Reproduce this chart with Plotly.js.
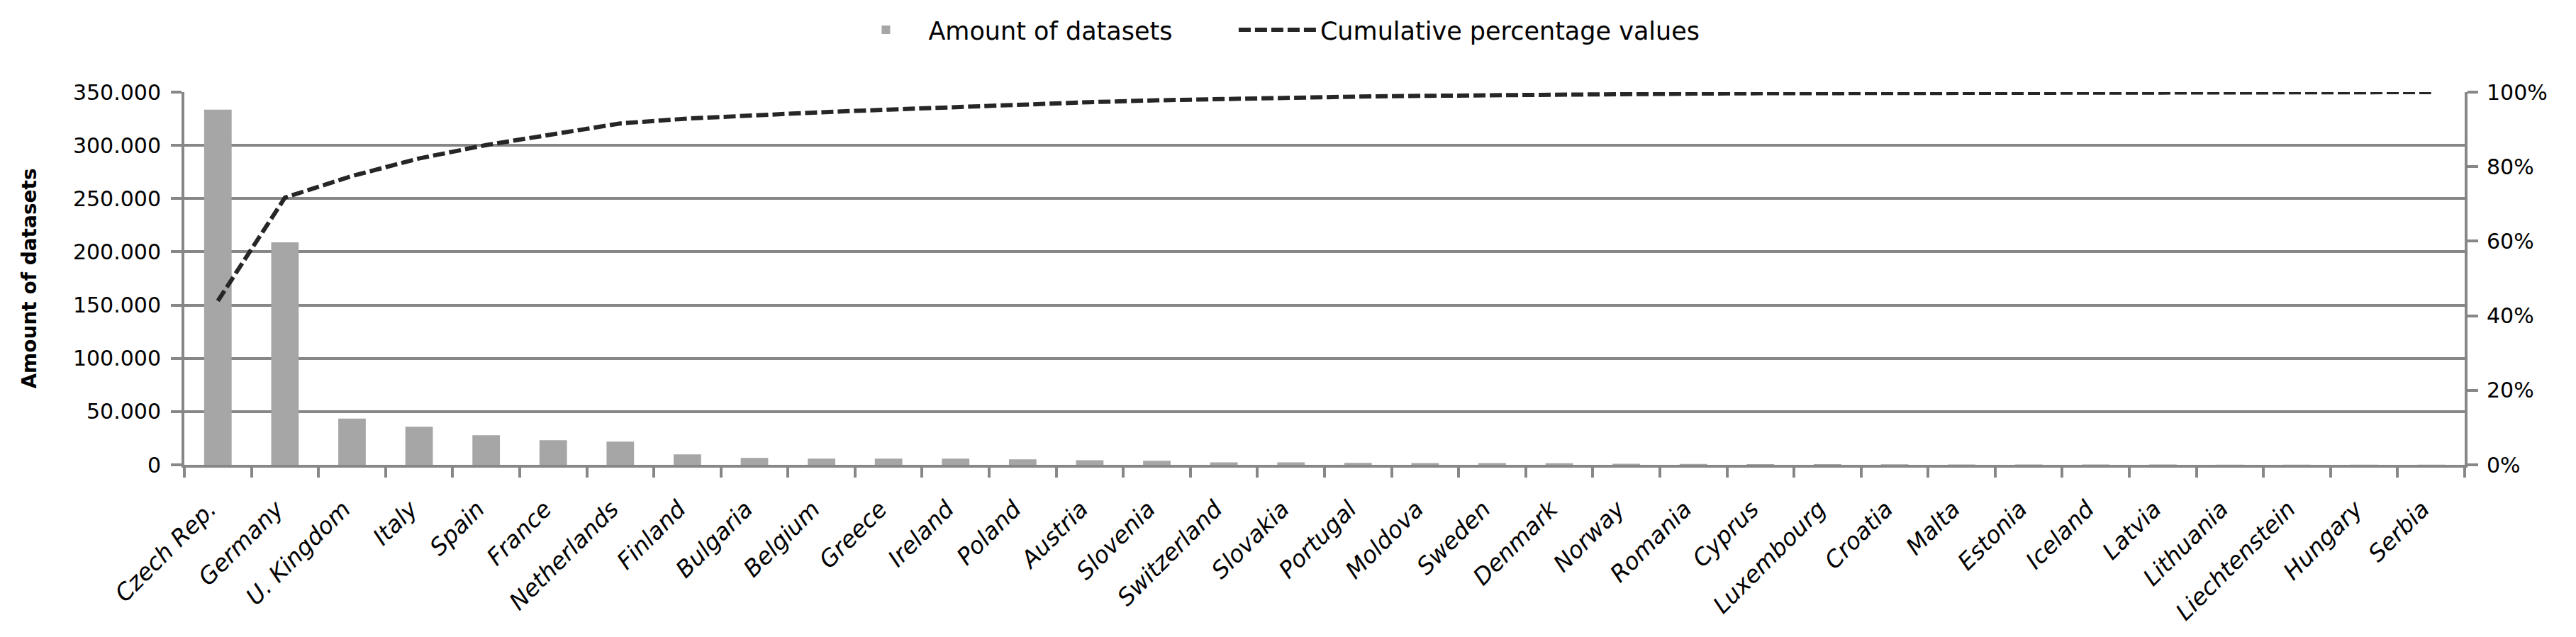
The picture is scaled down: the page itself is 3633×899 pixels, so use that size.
<!DOCTYPE html>
<html>
<head>
<meta charset="utf-8">
<script src="https://cdn.plot.ly/plotly-3.0.1.min.js"></script>
<style>
html,body{margin:0;padding:0;background:#fff;}
#chart{width:3633px;height:899px;}
</style>
</head>
<body>
<div id="chart"></div>
<script>
const countries = ["Czech Rep.","Germany","U. Kingdom","Italy","Spain","France","Netherlands","Finland","Bulgaria","Belgium","Greece","Ireland","Poland","Austria","Slovenia","Switzerland","Slovakia","Portugal","Moldova","Sweden","Denmark","Norway","Romania","Cyprus","Luxembourg","Croatia","Malta","Estonia","Iceland","Latvia","Lithuania","Liechtenstein","Hungary","Serbia"];
const datasets = [333600,209000,43500,35700,27800,23100,21800,9800,6500,5800,5800,5800,5100,4400,3800,2400,2400,1800,1700,1600,1500,1000,900,700,600,500,400,400,300,300,200,200,100,100];
const cumulative = [0.440,0.717,0.775,0.822,0.858,0.888,0.916,0.929,0.938,0.946,0.953,0.960,0.967,0.973,0.978,0.982,0.985,0.988,0.990,0.992,0.994,0.995,0.996,0.997,0.9975,0.998,0.9985,0.9988,0.999,0.9993,0.9995,0.9997,0.9999,1.0];

const FONT = "DejaVu Sans, Verdana, sans-serif";
const GRID = "#878787";

const traces = [
  {type:"bar", name:"Amount of datasets", x:countries, y:datasets,
   marker:{color:"#a6a6a6"}, yaxis:"y", legend:"legend"},
  {type:"scatter", mode:"lines", name:"Cumulative percentage values", x:countries, y:cumulative,
   line:{color:"#262626", width:6, dash:"17px,6px"}, yaxis:"y2", legend:"legend2"}
];

const legendFont = {family:FONT, size:35, color:"#000"};

const layout = {
  width:3633, height:899,
  margin:{l:260, r:157, t:130, b:243},
  paper_bgcolor:"#fff", plot_bgcolor:"#fff",
  separators:",.",
  bargap:0.59,
  font:{family:FONT, size:30, color:"#000"},
  showlegend:true,
  legend:{orientation:"h", x:0.289, y:1.167, xanchor:"left", yanchor:"middle",
          font:legendFont, itemwidth:110, bgcolor:"rgba(0,0,0,0)"},
  legend2:{orientation:"h", x:0.4608, y:1.167, xanchor:"left", yanchor:"middle",
          font:legendFont, itemwidth:110, bgcolor:"rgba(0,0,0,0)"},
  xaxis:{type:"category", tickangle:-45, ticks:"outside", ticklen:14, tickwidth:4, tickcolor:GRID,
         tickson:"boundaries", showline:true, linecolor:GRID, linewidth:4, showgrid:false,
         ticklabelstandoff:26, ticklabelshift:-12,
         tickfont:{family:FONT, size:33, style:"italic", color:"#000"}, automargin:false},
  yaxis:{range:[0,350000], dtick:50000, tickformat:",d", showgrid:true, gridcolor:GRID, gridwidth:4,
         showline:true, linecolor:GRID, linewidth:4, ticks:"outside", ticklen:15, tickwidth:4, tickcolor:GRID,
         zeroline:false, tickfont:{family:FONT, size:30, color:"#000"}, automargin:false, ticklabelstandoff:8,
         title:{text:"Amount of datasets", font:{family:FONT, size:28, weight:"bold", color:"#000"}, standoff:44}},
  yaxis2:{range:[0,1], dtick:0.2, tickformat:".0%", overlaying:"y", side:"right", showgrid:false,
          showline:true, linecolor:GRID, linewidth:4, ticks:"outside", ticklen:15, tickwidth:4, tickcolor:GRID,
          zeroline:false, tickfont:{family:FONT, size:30, color:"#000"}, automargin:false, ticklabelstandoff:6}
};

Plotly.newPlot("chart", traces, layout, {displayModeBar:false, staticPlot:true});
</script>
</body>
</html>
